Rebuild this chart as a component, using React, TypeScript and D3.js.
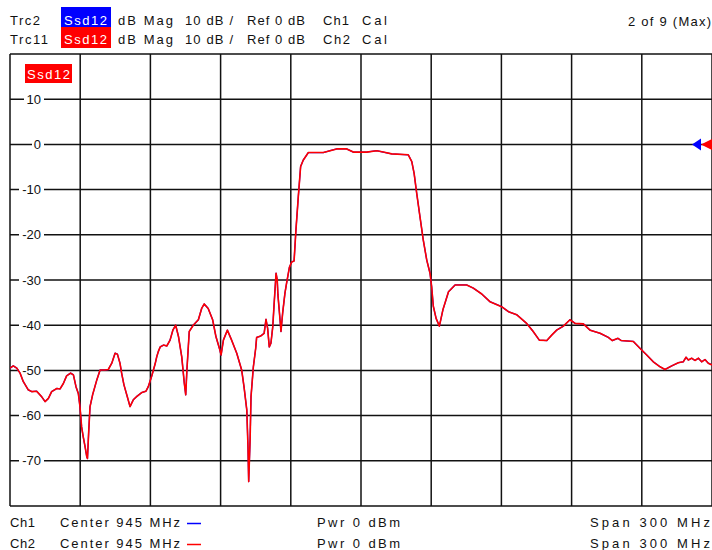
import { useMemo } from "react";
import * as d3 from "d3";

const WIDTH = 712;
const HEIGHT = 550;
const PLOT = { left: 10, top: 54, right: 712, bottom: 506 };

// frequency axis: Center 945 MHz, Span 300 MHz
const START_MHZ = 795;
const STOP_MHZ = 1095;
const REF_TOP = 20;
const REF_BOTTOM = -80;

const yTickLabels = [10, 0, -10, -20, -30, -40, -50, -60, -70];

// Ssd12 trace (both channels)
const freqMHz = [
  795.0, 796.4, 797.9, 799.3, 800.7, 802.8, 804.3, 806.4, 808.5, 810.0,
  811.4, 812.8, 815.0, 816.4, 817.8, 819.2, 820.9, 822.1, 823.2, 824.2,
  824.9, 825.2, 825.6, 826.3, 827.1, 827.8, 828.1, 828.6, 829.2, 830.3,
  832.1, 833.5, 835.6, 837.0, 838.5, 839.9, 840.9, 842.0, 842.7, 843.7,
  844.9, 846.3, 847.7, 849.1, 851.3, 853.1, 854.1, 855.6, 857.0, 857.7,
  858.4, 859.2, 860.6, 862.0, 863.4, 864.6, 865.8, 867.0, 868.4, 869.5,
  870.1, 870.6, 871.6, 873.3, 875.5, 876.9, 878.0, 879.7, 881.6, 883.0,
  884.7, 885.2, 886.2, 887.9, 889.7, 891.9, 894.0, 895.0, 896.2, 896.7,
  897.0, 897.6, 898.0, 899.0, 900.0, 900.4, 902.1, 903.6, 904.4, 905.1,
  905.8, 906.5, 907.3, 907.8, 908.7, 909.2, 909.5, 910.4, 910.8, 911.5,
  912.5, 913.2, 914.4, 915.4, 916.4, 917.2, 918.2, 919.2, 920.3, 922.5,
  928.9, 931.8, 934.6, 938.9, 941.7, 947.4, 951.7, 954.5, 958.1, 965.2,
  966.7, 967.7, 968.8, 970.2, 971.6, 973.1, 974.5, 975.2, 975.9, 977.1,
  978.5, 980.0, 982.4, 985.2, 990.2, 993.0, 996.6, 1000.1, 1005.1, 1008.0,
  1011.6, 1015.8, 1018.6, 1021.2, 1024.4, 1026.5, 1028.6, 1031.5, 1034.3, 1036.5,
  1040.0, 1042.9, 1047.2, 1050.7, 1052.4, 1054.8, 1056.2, 1061.4, 1064.2, 1067.1,
  1069.9, 1072.8, 1074.9, 1077.8, 1080.6, 1082.7, 1083.9, 1084.9, 1086.3, 1087.7,
  1089.2, 1090.6, 1092.0, 1093.4, 1095.0,
];

const s12dB = [
  -49.5, -49.0, -49.5, -50.6, -52.5, -54.3, -54.7, -54.6, -55.8, -56.9,
  -56.2, -54.7, -54.0, -54.1, -52.9, -51.2, -50.6, -51.0, -53.6, -55.1,
  -58.0, -59.9, -62.5, -64.7, -66.9, -69.1, -69.5, -63.9, -58.0, -55.4,
  -52.1, -49.9, -49.9, -49.8, -48.4, -46.2, -46.4, -48.4, -50.6, -53.2,
  -55.4, -58.0, -56.5, -55.8, -54.9, -54.6, -53.6, -51.2, -48.6, -47.0,
  -45.8, -44.8, -44.4, -44.6, -43.3, -41.1, -40.0, -42.5, -47.0, -52.9,
  -55.4, -49.9, -41.4, -40.0, -38.8, -36.3, -35.3, -36.3, -38.8, -42.5,
  -45.5, -46.6, -43.3, -41.1, -43.3, -46.2, -49.9, -53.6, -58.8, -66.9,
  -74.6, -65.4, -55.8, -49.2, -45.1, -42.7, -42.4, -41.8, -38.7, -40.7,
  -44.8, -44.0, -40.3, -35.9, -28.5, -30.0, -33.3, -38.8, -41.4, -37.4,
  -32.9, -30.7, -27.2, -26.0, -25.8, -18.9, -11.6, -4.9, -3.5, -1.8,
  -1.8, -1.4, -1.0, -1.0, -1.7, -1.7, -1.4, -1.7, -2.1, -2.3,
  -3.8, -6.4, -10.8, -16.0, -21.1, -25.6, -28.5, -31.5, -35.8, -38.5,
  -40.2, -36.6, -32.6, -31.1, -31.1, -31.8, -33.1, -34.8, -35.9, -37.0,
  -37.7, -39.6, -41.4, -43.3, -43.4, -42.2, -41.1, -40.2, -38.8, -39.6,
  -39.7, -41.1, -41.8, -42.7, -43.4, -42.9, -43.4, -43.6, -45.1, -46.6,
  -48.1, -49.2, -49.8, -49.0, -48.3, -48.1, -47.1, -47.7, -47.3, -47.8,
  -47.3, -48.1, -47.6, -48.4, -48.8,
];

const FONT = "'Liberation Sans', Arial, sans-serif";
const BLUE = "#0000ff";
const RED = "#ff0000";

// text spread out to the width it has on the analyzer screen
const Txt = ({ x, y, w, children, fill = "#111", anchor = "start" }) => (
  <text
    x={x}
    y={y}
    textLength={w}
    lengthAdjust="spacing"
    textAnchor={anchor}
    fontFamily={FONT}
    fontSize={13}
    fill={fill}
  >
    {children}
  </text>
);

const App = () => {
  const xScale = useMemo(
    () => d3.scaleLinear().domain([START_MHZ, STOP_MHZ]).range([PLOT.left, PLOT.right]),
    []
  );
  const yScale = useMemo(
    () => d3.scaleLinear().domain([REF_TOP, REF_BOTTOM]).range([PLOT.top, PLOT.bottom]),
    []
  );

  const points = freqMHz.map((f, i) => [f, s12dB[i]]);
  const linePath = d3
    .line()
    .x((d) => xScale(d[0]))
    .y((d) => yScale(d[1]))(points);

  const xGrid = d3.range(0, 11).map((i) => START_MHZ + (i * (STOP_MHZ - START_MHZ)) / 10);
  const yGrid = d3.range(REF_TOP, REF_BOTTOM - 1, -10);

  const y0 = yScale(0);

  return (
    <svg
      width={WIDTH}
      height={HEIGHT}
      style={{ position: "absolute", left: 0, top: 0, background: "#fff" }}
    >
      <defs>
        <clipPath id="plot-clip">
          <rect x={PLOT.left} y={PLOT.top} width={PLOT.right - PLOT.left} height={PLOT.bottom - PLOT.top} />
        </clipPath>
      </defs>

      {/* header */}
      <Txt x={10} y={25} w={30}>Trc2</Txt>
      <rect x={61} y={7} width={50} height={20} fill={BLUE} />
      <Txt x={64} y={25} w={43} fill="#fff">Ssd12</Txt>
      <Txt x={118} y={25} w={55}>dB Mag</Txt>
      <Txt x={185} y={25} w={48}>10 dB /</Txt>
      <Txt x={247} y={25} w={58}>Ref 0 dB</Txt>
      <Txt x={323} y={25} w={26}>Ch1</Txt>
      <Txt x={362} y={25} w={25}>Cal</Txt>
      <Txt x={711} y={26} w={83} anchor="end">2 of 9 (Max)</Txt>

      <Txt x={10} y={44} w={38}>Trc11</Txt>
      <rect x={61} y={27} width={50} height={21} fill={RED} />
      <Txt x={64} y={44} w={43} fill="#fff">Ssd12</Txt>
      <Txt x={118} y={44} w={55}>dB Mag</Txt>
      <Txt x={185} y={44} w={48}>10 dB /</Txt>
      <Txt x={247} y={44} w={58}>Ref 0 dB</Txt>
      <Txt x={323} y={44} w={27}>Ch2</Txt>
      <Txt x={362} y={44} w={25}>Cal</Txt>

      {/* grid */}
      <g stroke="#111" strokeWidth={1.5}>
        {xGrid.map((f) => (
          <line key={"x" + f} x1={xScale(f)} x2={xScale(f)} y1={PLOT.top} y2={PLOT.bottom} />
        ))}
        {yGrid.map((v) => (
          <line key={"y" + v} x1={PLOT.left} x2={PLOT.right} y1={yScale(v)} y2={yScale(v)} />
        ))}
      </g>

      {/* y tick labels sit on the grid lines */}
      {yTickLabels.map((v) => (
        <g key={"t" + v}>
          <rect x={v < 0 ? 19 : v === 0 ? 32 : 24} y={yScale(v) - 6} width={v < 0 ? 25 : v === 0 ? 12 : 20} height={12} fill="#fff" />
          <text
            x={41}
            y={yScale(v) + 4.5}
            textAnchor="end"
            fontFamily={FONT}
            fontSize={13}
            fill="#111"
          >
            {v}
          </text>
        </g>
      ))}

      {/* traces */}
      <g clipPath="url(#plot-clip)" fill="none" strokeLinejoin="round">
        <path d={linePath} stroke={BLUE} strokeWidth={1.3} />
        <path d={linePath} stroke={RED} strokeWidth={1.6} />
      </g>

      {/* trace label inside plot */}
      <rect x={25} y={64} width={47} height={19} fill={RED} />
      <Txt x={27} y={79} w={43} fill="#fff">Ssd12</Txt>

      {/* reference level markers */}
      <path d={`M692,${y0} L701,${y0 - 6} L701,${y0 + 6} Z`} fill={BLUE} />
      <path d={`M701,${y0} L713,${y0 - 6} L713,${y0 + 6} Z`} fill={RED} />

      {/* footer */}
      <Txt x={10} y={527} w={25}>Ch1</Txt>
      <Txt x={60} y={527} w={120}>Center 945 MHz</Txt>
      <line x1={187} x2={201} y1={523.5} y2={523.5} stroke={BLUE} strokeWidth={1.5} />
      <Txt x={317} y={527} w={83}>Pwr 0 dBm</Txt>
      <Txt x={710} y={527} w={120} anchor="end">Span 300 MHz</Txt>

      <Txt x={10} y={548} w={25}>Ch2</Txt>
      <Txt x={60} y={548} w={120}>Center 945 MHz</Txt>
      <line x1={187} x2={201} y1={544.5} y2={544.5} stroke={RED} strokeWidth={1.5} />
      <Txt x={317} y={548} w={83}>Pwr 0 dBm</Txt>
      <Txt x={710} y={548} w={120} anchor="end">Span 300 MHz</Txt>
    </svg>
  );
};

export default App;
